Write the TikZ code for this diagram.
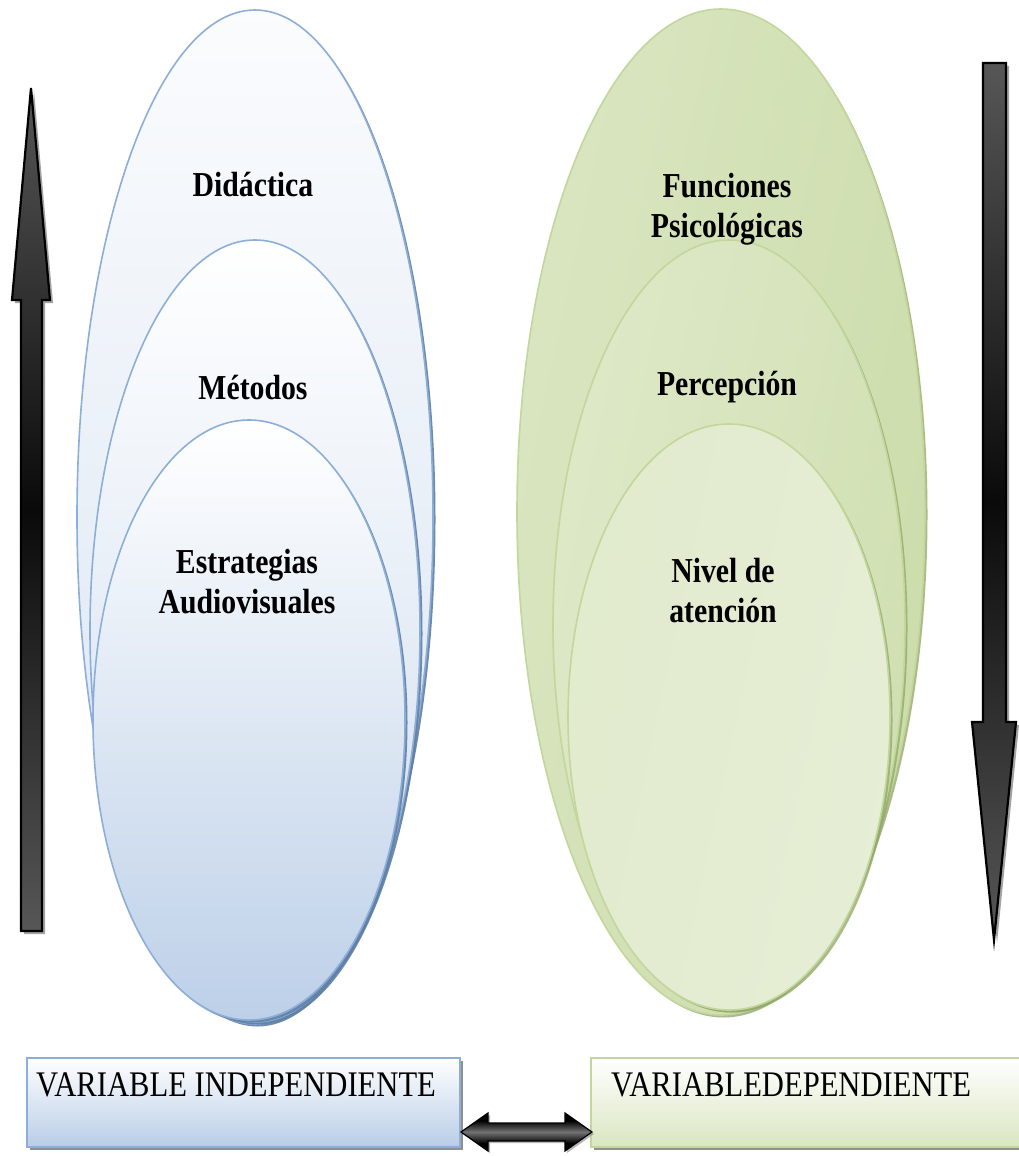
\documentclass[tikz,border=0pt]{standalone}
\usepackage{fontspec}
\setmainfont[FakeStretch=0.85]{Liberation Serif}
\usetikzlibrary{shapes.geometric,shadows,calc}
\definecolor{bluebd}{HTML}{8DAED8}
\definecolor{blueshd}{HTML}{5F7FA6}
\definecolor{greenbd}{HTML}{C3D69B}
\definecolor{greenshd}{HTML}{93AA6C}
\pgfdeclareverticalshading{arrowshade}{100bp}{color(0bp)=(black!60); color(25bp)=(black!66); color(50bp)=(black!96); color(75bp)=(black!66); color(100bp)=(black!60)}
\pgfdeclareverticalshading{dblshade}{100bp}{color(0bp)=(black); color(35bp)=(black); color(50bp)=(black!55); color(65bp)=(black); color(100bp)=(black)}
\tikzset{
  blueell/.style={ellipse, draw=bluebd, line width=1.6pt, inner sep=0pt,
    drop shadow={shadow xshift=2.5pt, shadow yshift=-2.5pt, fill=blueshd, opacity=0.9}},
  greenell/.style={ellipse, draw=greenbd, line width=1.6pt, inner sep=0pt,
    drop shadow={shadow xshift=2.5pt, shadow yshift=-2.5pt, fill=greenshd, opacity=0.8}},
  lbl/.style={font=\fontsize{35}{40}\selectfont\bfseries, align=center, inner sep=0pt},
  boxlbl/.style={font=\fontsize{36}{40}\selectfont, anchor=west, inner sep=0pt},
  varbox/.style={rectangle, line width=2pt, inner sep=0pt,
    drop shadow={shadow xshift=3pt, shadow yshift=-3pt, fill=black!55, opacity=0.8}},
  bigarrow/.style={draw=black, line width=2.2pt, line join=miter, shading=arrowshade,
    drop shadow={shadow xshift=3pt, shadow yshift=-3pt, fill=black!45, opacity=0.8}},
}
\begin{document}
\begin{tikzpicture}[x=1pt,y=-1pt]
\clip (0,0) rectangle (1019,1156);
\fill[white] (0,0) rectangle (1019,1156);

% left stacked ellipses
\node[blueell, top color=white!60!bluebd!10, bottom color=bluebd!35!white,
      minimum width=356pt, minimum height=1014pt] (lo) at (255,517) {};
\node[blueell, top color=white, bottom color=bluebd!45!white,
      minimum width=330pt, minimum height=782pt] (lm) at (255,631) {};
\node[blueell, top color=white, bottom color=bluebd!58!white,
      minimum width=312pt, minimum height=600pt] (li) at (249,720) {};

% right stacked ellipses
\node[greenell, left color=greenbd!62!white, middle color=greenbd!25!white, right color=greenbd!85!white,
      shading angle=78, minimum width=408pt, minimum height=1006pt] (ro) at (721,512) {};
\node[greenell, left color=greenbd!55!white, middle color=greenbd!26!white, right color=greenbd!78!white,
      shading angle=78, minimum width=352pt, minimum height=770pt] (rm) at (729,625) {};
\node[greenell, left color=greenbd!50!white, middle color=greenbd!24!white, right color=greenbd!42!white,
      shading angle=78, minimum width=322pt, minimum height=586pt] (ri) at (729,717) {};

% labels
\node[lbl] (t1) at (253,185) {Didáctica};
\node[lbl] (t2) at (253,388) {Métodos};
\node[lbl] (t3) at (247,582) {Estrategias\\Audiovisuales};
\node[lbl] (t4) at (727,209) {Funciones\\Psicológicas};
\node[lbl] (t5) at (727,387) {Percepción};
\node[lbl] (t6) at (723,591) {Nivel de\\atención};

% big vertical arrows
\draw[bigarrow] (21,931) -- (21,300) -- (12,300) -- (31,88) -- (50,300) -- (42,300) -- (42,931) -- cycle;
\draw[bigarrow] (983,63) -- (1006,63) -- (1006,722) -- (1016,722) -- (994,940) -- (972,722) -- (983,722) -- cycle;

% bottom boxes
\node[varbox, draw=bluebd, top color=white, bottom color=bluebd!62!white,
      minimum width=433pt, minimum height=89pt] (vi) at (243.5,1102.5) {};
\node[boxlbl] (vit) at (36,1085) {VARIABLE INDEPENDIENTE};
\node[varbox, draw=greenbd, top color=white, bottom color=greenbd!62!white,
      minimum width=440pt, minimum height=89pt, anchor=west] (vd) at (590,1102.5) {};
\node[boxlbl] (vdt) at (611,1085) {VARIABLEDEPENDIENTE};

% double arrow between boxes
\coordinate (da) at ($(vi.south east)+(0,-16)$);
\coordinate (db) at ($(vd.south west)+(2,-16)$);
\draw[draw=black, line width=1.2pt, shading=dblshade,
      drop shadow={shadow xshift=2pt, shadow yshift=-2pt, fill=black!40, opacity=0.7}]
  (da) -- ++(27,-19) -- ++(0,10) -- ($(db)+(-27,-9)$) -- ++(0,-10) -- (db)
  -- ++(-27,19) -- ++(0,-10) -- ($(da)+(27,9)$) -- ++(0,10) -- cycle;
\end{tikzpicture}
\end{document}
